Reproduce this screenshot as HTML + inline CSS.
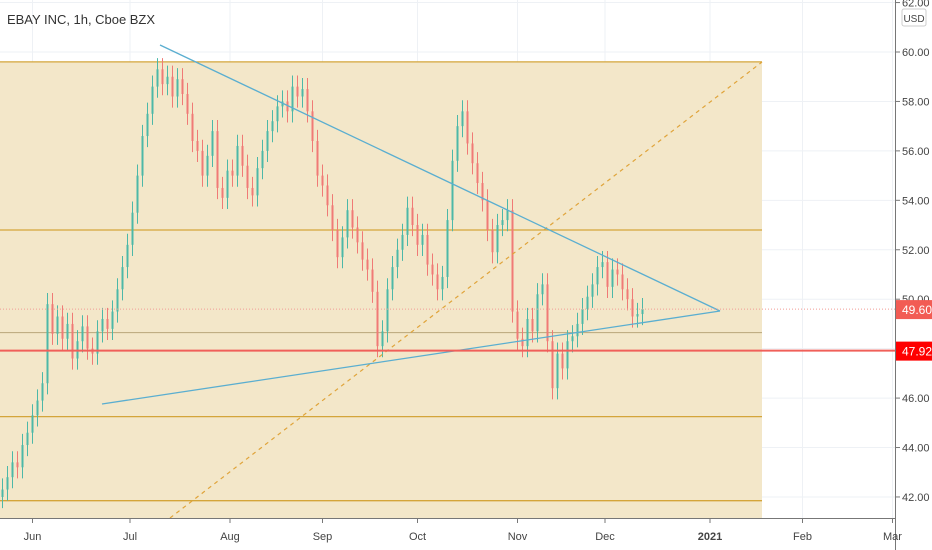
<!DOCTYPE html>
<html><head><meta charset="utf-8"><style>
body{margin:0;width:932px;height:550px;overflow:hidden;background:#fff;font-family:"Liberation Sans",sans-serif}
</style></head><body>
<svg id="chart" width="932" height="550" xmlns="http://www.w3.org/2000/svg" style="display:block">
<g id="grid"></g>
<rect x="0" y="62" width="762" height="456" fill="#f3e7c9"/>
<g id="zones"></g>
<g id="candles"></g>
<g id="draw"></g>
<g id="axes"></g>
<text x="7" y="24" font-size="13" fill="#333" textLength="148">EBAY INC, 1h, Cboe BZX</text>
</svg>
<script>
const closes=[42.3,42.8,43.4,43.2,44.1,44.6,45.3,45.9,46.6,49.8,48.6,49.3,48.4,49.0,47.6,48.3,48.9,48.0,47.8,48.7,49.2,48.8,49.5,50.4,51.3,52.2,53.5,55.0,56.6,57.5,58.6,59.3,58.7,59.0,58.2,58.9,58.3,57.5,56.4,56.0,55.0,55.8,56.8,54.5,54.1,55.2,55.0,56.2,55.4,54.5,54.2,55.3,56.0,56.8,57.2,57.8,58.0,57.6,58.6,58.2,58.5,57.6,56.4,55.0,54.6,53.8,52.8,51.7,52.5,53.6,52.9,52.3,51.6,51.2,50.3,48.1,48.7,50.4,51.3,52.0,52.6,53.7,53.0,52.2,52.6,51.4,51.0,50.4,50.9,53.2,55.6,57.0,57.6,56.3,55.5,54.7,54.0,52.8,51.9,53.0,53.2,53.6,49.5,48.4,48.1,49.2,48.7,50.2,50.6,48.3,46.4,47.8,47.2,48.3,48.5,49.0,49.6,50.1,50.6,51.3,51.5,50.5,51.2,51.0,50.4,50.0,49.3,49.4,49.6];
const priceTicks=[42,44,46,48,50,52,54,56,58,60,62];
const dateLabels=["Jun","Jul","Aug","Sep","Oct","Nov","Dec","2021","Feb","Mar"];
const dateIdx=[6,25.5,45.5,64,83,103,120.5,141.5,160,178];
const zoneLevels=[59.6,52.8,48.65,45.25,41.85];
const lastPrice=49.60, alertPrice=47.92;
const NS="http://www.w3.org/2000/svg";
const yS=p=>52+(60-p)*24.72;
const xS=i=>2.5+i*5;
function mk(g,t,a){const e=document.createElementNS(NS,t);for(const k in a)e.setAttribute(k,a[k]);document.getElementById(g).appendChild(e);return e;}
priceTicks.forEach(p=>{const l=mk('grid','line',{x1:0,x2:895,y1:yS(p),y2:yS(p),stroke:'#eef1f5'});

});
dateIdx.forEach(d=>{const l=mk('grid','line',{x1:xS(d),x2:xS(d),y1:0,y2:518,stroke:'#eef1f5'});

});
zoneLevels.forEach((p,i)=>{const l=mk('zones','line',{x1:0,x2:762,y1:yS(p),y2:yS(p),stroke:i==2?'#b8a67a':'#d4a53a','stroke-width':i==2?1:1.3});

});
let d=mk('draw','line',{x1:170,y1:518,x2:762,y2:62,stroke:'#e0a43a','stroke-width':1.2,'stroke-dasharray':'4,4'});


closes.forEach((c,i)=>{const o=i?closes[i-1]:c-0.3;const hi=Math.max(o,c)+0.45,lo=Math.min(o,c)-0.45;
const up=c>=o,col=up?'#4cb8a8':'#f07a76',x=xS(i);
const w=mk('candles','line',{x1:x,x2:x,y1:yS(hi),y2:yS(lo),stroke:col,'stroke-width':1});


const b=mk('candles','rect',{x:x-1,width:2,y:yS(Math.max(o,c)),height:Math.max(1,Math.abs(yS(o)-yS(c))),fill:col});

});
[[160,45,720,311],[102,404,720,311]].forEach(t=>{const l=mk('draw','line',{x1:t[0],y1:t[1],x2:t[2],y2:t[3],stroke:'#5aaed0','stroke-width':1.3});

});
let pl=mk('draw','line',{x1:0,x2:895,y1:yS(lastPrice),y2:yS(lastPrice),stroke:'#f29b95','stroke-dasharray':'1,2'});


let al=mk('draw','line',{x1:0,x2:932,y1:yS(alertPrice),y2:yS(alertPrice),stroke:'#f0605a','stroke-width':2});


mk('axes','rect',{x:896,y:0,width:36,height:550,fill:'#fff'});
mk('axes','rect',{x:0,y:519,width:932,height:31,fill:'#fff'});
mk('axes','line',{x1:895.5,x2:895.5,y1:0,y2:550,stroke:'#777'});
mk('axes','line',{x1:0,x2:896,y1:518.5,y2:518.5,stroke:'#777'});
priceTicks.forEach(p=>{const y=yS(p);mk('axes','line',{x1:896,x2:900,y1:y,y2:y,stroke:'#777'});
const t=mk('axes','text',{x:902,y:y+4,'font-size':11,fill:'#444'});t.textContent=p.toFixed(2);

});
dateLabels.forEach((s,i)=>{const x=xS(dateIdx[i]);mk('axes','line',{x1:x,x2:x,y1:519,y2:523,stroke:'#777'});
const t=mk('axes','text',{x:x,y:540,'font-size':11,fill:'#444','text-anchor':'middle','font-weight':s=='2021'?'bold':'normal'});t.textContent=s;

});
let ub=mk('axes','rect',{x:902,y:9,width:24,height:17,fill:'#fff',stroke:'#ccc',rx:2});


let ut=mk('axes','text',{x:914,y:22,'font-size':10,fill:'#444','text-anchor':'middle'});ut.textContent='USD';
[[lastPrice,'#f25c54'],[alertPrice,'#ff0000']].forEach(([p,c],i)=>{const y=yS(p);
const r=mk('axes','rect',{x:896,y:y-9,width:36,height:19,fill:c});


const t=mk('axes','text',{x:902,y:y+5,'font-size':12,fill:'#fff'});t.textContent=p.toFixed(2);});
</script>
</body></html>
